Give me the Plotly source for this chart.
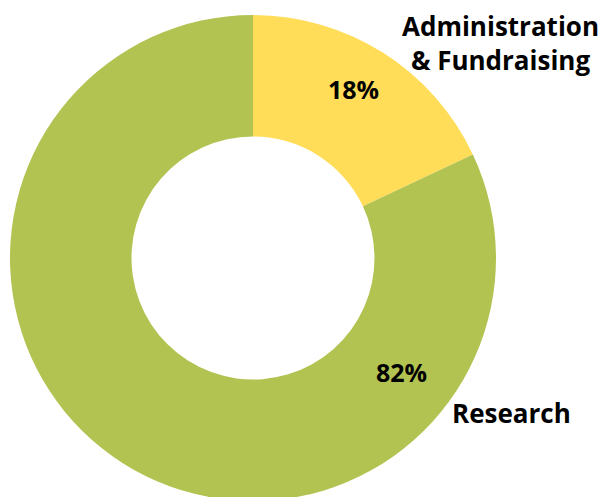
import math
import plotly.graph_objects as go

# ---- data ----
categories = ["Administration & Fundraising", "Research"]
values = [18, 82]
colors = ["#FFDD59", "#B2C351"]
category_text = ["Administration<br>& Fundraising", "Research"]
percent_text = ["18%", "82%"]

# ---- geometry / layout (pixels) ----
W, H = 604, 501
M_L, M_T, M_R, M_B = 10, 15, 0, 0
R = 243                      # outer radius in px
HOLE = 0.5
plot_w = W - M_L - M_R
plot_h = H - M_T - M_B
cx, cy = M_L + R, M_T + R    # pie centre in px

def to_paper(px, py):
    return (px - M_L) / plot_w, 1 - (py - M_T) / plot_h

def polar(angle_deg, rfrac):
    a = math.radians(angle_deg)
    return to_paper(cx + rfrac * R * math.sin(a), cy - rfrac * R * math.cos(a))

fig = go.Figure(go.Pie(
    labels=categories,
    values=values,
    hole=HOLE,
    sort=False,
    direction="clockwise",
    rotation=0,
    marker=dict(colors=colors, line=dict(width=0)),
    textinfo="none",
    hoverinfo="label+percent",
    domain=dict(x=[0, 2 * R / plot_w], y=[0, 1]),
    showlegend=False,
))

# percent labels (angle clockwise from 12 o'clock, radius fraction)
pct_pos = [(30.7, 0.81), (127.4, 0.77)]
# category labels (angle, radius fraction)
cat_pos = [(48.96, 1.348), (120.9, 1.242)]

annotations = []
for txt, (ang, rf) in zip(percent_text, pct_pos):
    x, y = polar(ang, rf)
    annotations.append(dict(x=x, y=y, xref="paper", yref="paper", text=txt,
                            showarrow=False, xanchor="center", yanchor="middle",
                            font=dict(family="Open Sans", size=25, color="#000000",
                                      weight="bold")))
for txt, (ang, rf) in zip(category_text, cat_pos):
    x, y = polar(ang, rf)
    annotations.append(dict(x=x, y=y, xref="paper", yref="paper", text=txt,
                            showarrow=False, xanchor="center", yanchor="middle",
                            align="center",
                            font=dict(family="Open Sans", size=26, color="#000000",
                                      weight="bold")))

fig.update_layout(
    width=W, height=H,
    margin=dict(l=M_L, r=M_R, t=M_T, b=M_B, pad=0),
    paper_bgcolor="white", plot_bgcolor="white",
    annotations=annotations,
)

fig.write_html("out.html",
               post_script="document.documentElement.style.overflow='hidden';document.body.style.overflow='hidden';document.body.style.margin='0';")
